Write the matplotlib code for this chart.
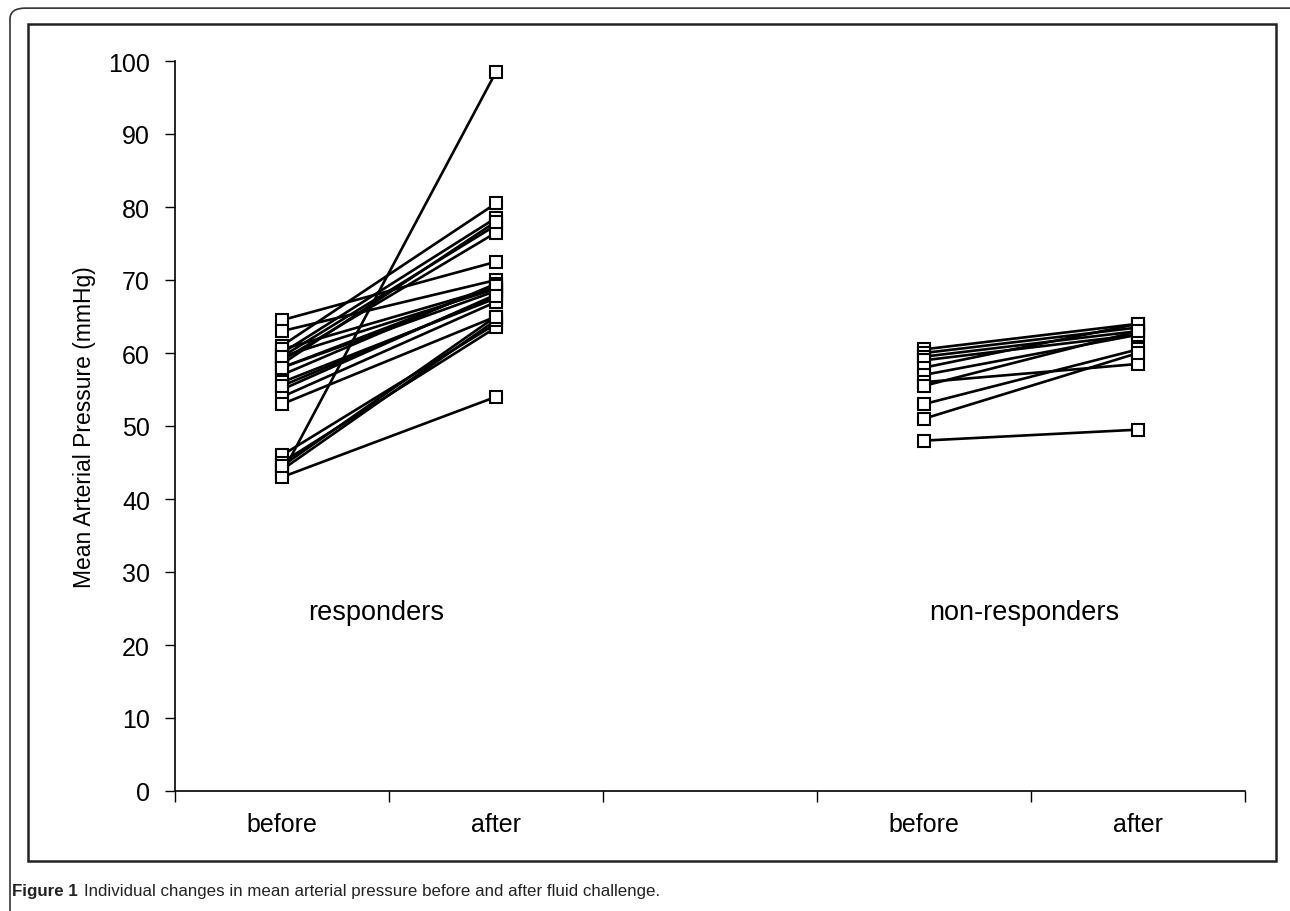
import matplotlib
matplotlib.use("Agg")
import matplotlib.pyplot as plt
from matplotlib.patches import FancyBboxPatch, Rectangle

plt.rcParams['font.family'] = ['Liberation Sans', 'DejaVu Sans']

# ============================================
# DATA (mmHg)
# ============================================
slot_labels = ["before", "after", "", "before", "after"]

resp_before = [64.5, 63, 61, 60, 59.5, 59, 58.5, 60.5, 58, 57,
               56, 55, 54, 53, 46, 45, 44, 43.5, 43, 44.5,
               59.5, 58, 55.5]
resp_after = [72.5, 70, 80.5, 78.5, 77.5, 76.5, 78, 69, 68.5, 69.5,
              67.5, 68, 67, 65, 64, 63.5, 64.5, 98.5, 54, 65,
              68.8, 69.2, 67.8]

nonresp_before = [60.5, 60, 59.5, 59, 58, 57, 56, 55.5, 53, 51, 48]
nonresp_after = [64, 63.5, 63, 62.5, 64, 62.5, 58.5, 63, 60.5, 60, 49.5]

group_names = ["responders", "non-responders"]

# ============================================
# FIGURA
# ============================================
fig = plt.figure(figsize=(12.9, 9.12), dpi=100)

# outer rounded card + inner frame
card = FancyBboxPatch((10 / 1290, -0.05), 1.2, 1.04,
                      boxstyle="round,pad=0,rounding_size=0.012",
                      transform=fig.transFigure, fill=False,
                      edgecolor="#333333", linewidth=1.2)
fig.patches.append(card)
frame = Rectangle((28 / 1290, 1 - 862 / 912), (1276 - 28) / 1290, (862 - 25) / 912,
                  transform=fig.transFigure, fill=False,
                  edgecolor="#222222", linewidth=1.8)
fig.patches.append(frame)

ax = fig.add_axes([175 / 1290, 1 - 792 / 912, 1070 / 1290, 730 / 912])

style = dict(color="black", linewidth=1.9, marker="s", markersize=9,
             markerfacecolor="white", markeredgecolor="black",
             markeredgewidth=1.5)

for b, a in zip(resp_before, resp_after):
    ax.plot([0, 1], [b, a], **style)
for b, a in zip(nonresp_before, nonresp_after):
    ax.plot([3, 4], [b, a], **style)

ax.set_xlim(-0.5, 4.5)
ax.set_ylim(0, 100)
ax.set_yticks(range(0, 101, 10))
ax.set_xticks([i - 0.5 for i in range(6)])
ax.set_xticklabels([])
ax.set_xticks(range(5), minor=True)
ax.set_xticklabels(slot_labels, minor=True, fontsize=18)
ax.tick_params(axis="x", which="minor", length=0, pad=15)
ax.tick_params(axis="x", which="major", length=8, direction="out", width=1)
ax.tick_params(axis="y", length=7, direction="out", width=1, labelsize=18, pad=11)

for s in ["top", "right"]:
    ax.spines[s].set_visible(False)
for s in ["left", "bottom"]:
    ax.spines[s].set_linewidth(1.2)

ax.text(0.44, 24.5, group_names[0], ha="center", va="center", fontsize=19.5)
ax.text(3.47, 24.5, group_names[1], ha="center", va="center", fontsize=19.5)

ax.set_ylabel("Mean Arterial Pressure (mmHg)", fontsize=16.5, labelpad=9)

fig.text(12 / 1290, 1 - 892 / 912, "Figure 1", fontsize=12.2,
         fontweight="bold", va="center", ha="left", color="#222222")
fig.text(84 / 1290, 1 - 892 / 912,
         "Individual changes in mean arterial pressure before and after fluid challenge.",
         fontsize=12.2, va="center", ha="left", color="#222222")

fig.savefig("out.png", dpi=100)
